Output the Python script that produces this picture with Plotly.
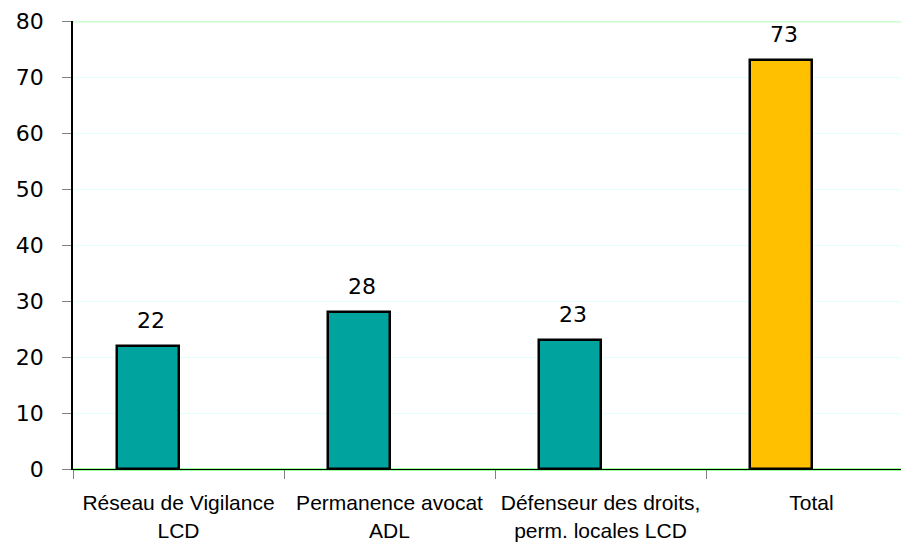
import plotly.graph_objects as go

categories = ["Réseau de Vigilance<br>LCD", "Permanence avocat<br>ADL",
              "Défenseur des droits,<br>perm. locales LCD", "Total"]
values = [22, 28, 23, 73]
bar_colors = ["#00A39D", "#00A39D", "#00A39D", "#FFC000"]
y_ticks = [0, 10, 20, 30, 40, 50, 60, 70, 80]

fig = go.Figure()
fig.add_trace(go.Bar(
    x=categories, y=values,
    marker=dict(color=bar_colors, line=dict(color="#000000", width=2.5)),
    width=0.29, offset=-0.29,
    hoverinfo="x+y",
))

annotations = [
    dict(x=c, y=v, xref="x", yref="y", text=str(v), showarrow=False,
         yanchor="bottom", xanchor="center", xshift=-28, yshift=11,
         font=dict(family="DejaVu Sans", size=22, color="#000000"))
    for c, v in zip(categories, values)
]

fig.update_layout(
    width=901, height=536,
    margin=dict(l=65, r=0, t=13, b=75, autoexpand=False),
    plot_bgcolor="#FFFFFF", paper_bgcolor="#FFFFFF",
    showlegend=False,
    bargap=0,
    xaxis=dict(
        type="category", range=[-0.5, 3.462],
        showline=True, linecolor="#000000", linewidth=1,
        ticks="outside", tickson="boundaries", ticklen=9, tickcolor="#808080",
        tickfont=dict(family="Liberation Sans", size=21, color="#000000"),
        tickangle=0,
        ticklabelstandoff=15,
        showgrid=False,
    ),
    yaxis=dict(
        range=[0, 80], tickvals=y_ticks,
        showline=True, linecolor="#000000", linewidth=1.5,
        ticks="outside", ticklen=9, tickcolor="#808080",
        tickfont=dict(family="DejaVu Sans", size=22, color="#000000"),
        ticklabelstandoff=14,
        showgrid=True, gridcolor="#E4FFFF", gridwidth=1,
        zeroline=True, zerolinecolor="#99FF99", zerolinewidth=3,
    ),
    annotations=annotations,
    shapes=[dict(type="line", xref="paper", yref="y", x0=0, x1=1, y0=80, y1=80,
                 line=dict(color="#CCFFCC", width=3), layer="below")],
)

fig.write_html("out.html")
